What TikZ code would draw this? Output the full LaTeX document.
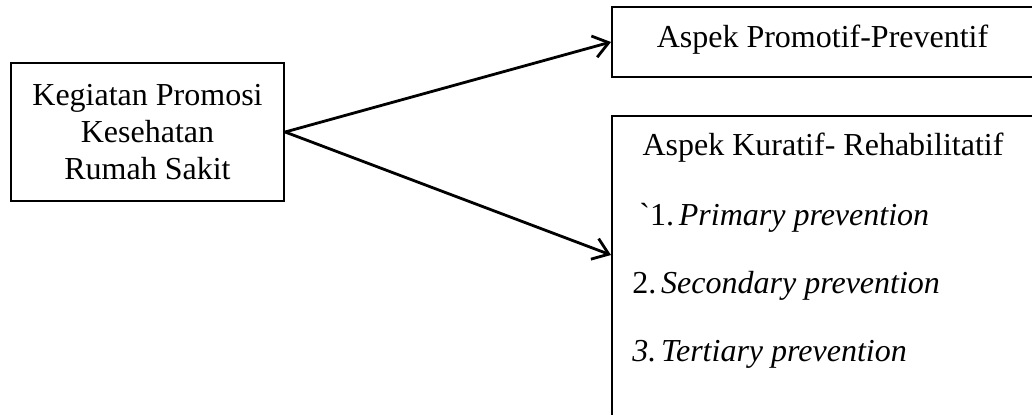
\documentclass[tikz,border=0pt]{standalone}
\usepackage{fontspec}
\setmainfont{Liberation Serif}
\usetikzlibrary{arrows.meta}
\tikzset{
  boxline/.style={draw=black, line width=1.1pt, rectangle, inner sep=0pt},
  conn/.style={draw=black, line width=1.4pt, -{Straight Barb[length=7.5pt, width=11pt, line width=1.4pt]}},
  txt/.style={font=\fontsize{16}{18.3}\selectfont, inner sep=0pt},
}
\begin{document}
\begin{tikzpicture}[x=0.5pt, y=-0.5pt]
\useasboundingbox (0,0) rectangle (1032,414);
\clip (0,0) rectangle (1032,414);
% left box
\node[boxline, minimum width=136.5pt, minimum height=69pt, txt, align=center] (src) at (147.5,132)
  {Kegiatan Promosi\\Kesehatan\\Rumah Sakit};
% top right box
\node[boxline, minimum width=214pt, minimum height=35pt, anchor=west] (promo) at (611,42) {};
\node[txt] (pt) at (822.5,40) {Aspek Promotif-Preventif};
% bottom right box
\node[boxline, minimum width=214pt, minimum height=160pt, anchor=north west] (kur) at (611,115) {};
\node[txt, anchor=base] (kt) at (823,155) {Aspek Kuratif- Rehabilitatif};
\node[txt, anchor=base west] (k1) at (639,225) {\textasciigrave 1.\hspace{0.15em}\textit{Primary prevention}};
\node[txt, anchor=base west] (k2) at (632,293) {2.\hspace{0.15em}\textit{Secondary prevention}};
\node[txt, anchor=base west] (k3) at (632,361) {\textit{3.\hspace{0.15em}Tertiary prevention}};
\coordinate (kin) at (611,255);
% connectors
\draw[conn] (src.east) -- (promo.west);
\draw[conn] (src.east) -- (kin);
\end{tikzpicture}
\end{document}
